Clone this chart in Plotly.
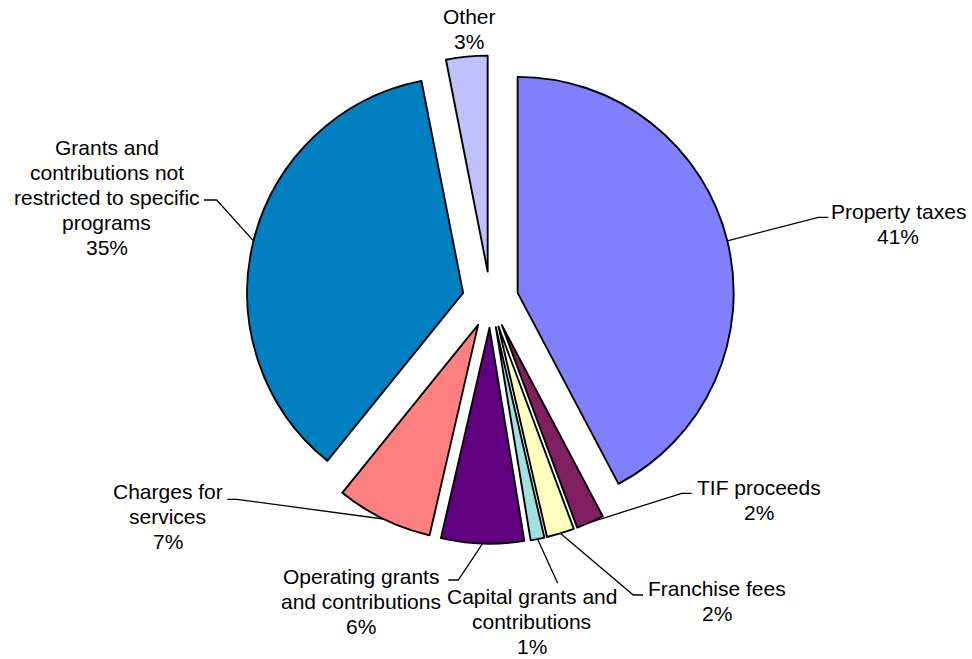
import math
import plotly.graph_objects as go

# Revenue sources (percent of total revenues)
categories = [
    "Property taxes",
    "TIF proceeds",
    "Franchise fees",
    "Capital grants and contributions",
    "Operating grants and contributions",
    "Charges for services",
    "Grants and contributions not restricted to specific programs",
    "Other",
]
values = [41, 2, 2, 1, 6, 7, 35, 3]

# Wrapped label text for each slice
label_lines = [
    ["Property taxes"],
    ["TIF proceeds"],
    ["Franchise fees"],
    ["Capital grants and", "contributions"],
    ["Operating grants", "and contributions"],
    ["Charges for", "services"],
    ["Grants and", "contributions not", "restricted to specific", "programs"],
    ["Other"],
]

colors = ["#8080FF", "#802060", "#FFFFC0", "#A0E0E0",
          "#600080", "#FF8080", "#0080C0", "#C0C0FF"]

# ---- canvas / pie geometry (pixels) ----
W, H = 972, 659
CX, CY = 490.4, 299.6          # pie centre
R = 216.0                      # pie radius
PULL = 0.13                    # explode distance as fraction of radius
half = R * (1 + PULL)
dom_x = [(CX - half) / W, (CX + half) / W]
dom_y = [1 - (CY + half) / H, 1 - (CY - half) / H]

LINE_STEP = 25                 # baseline spacing of label lines (px)

# label block centres and leader elbows (pixels); None = no leader
label_pos = [
    (898, 224.2), (759, 500.0), (717, 600.8), (531.7, 621.5),
    (360.5, 601.1), (167.8, 516.7), (106.7, 197.5), (469.3, 29.2),
]
leader_pts = [
    [(818.3, 217.3), (828.3, 217.3)],
    [(681.7, 493.3), (691.7, 493.3)],
    [(633.3, 595.0), (643.0, 595.0)],
    [(557.7, 583.3)],
    [(458.3, 580.0), (448.3, 580.0)],
    [(236.7, 499.3), (227.3, 499.3)],
    [(216.7, 200.0), (204.0, 200.0)],
    None,
]


def px(x, y):
    return x / W, 1 - y / H


fig = go.Figure(go.Pie(
    labels=categories,
    values=values,
    sort=False,
    direction="clockwise",
    rotation=0,
    pull=[PULL] * len(values),
    marker=dict(colors=colors, line=dict(color="black", width=1.9)),
    textinfo="none",
    hoverinfo="label+percent",
    domain=dict(x=dom_x, y=dom_y),
    showlegend=False,
))

font = dict(family="Arial, 'Liberation Sans', sans-serif", size=21, color="black")
annotations = []
shapes = []
total = sum(values)
cum = 0.0
for i, v in enumerate(values):
    mid = (cum + v / 2) / total * 2 * math.pi
    cum += v
    lines = label_lines[i] + [f"{v}%"]
    bx, by = label_pos[i]
    n = len(lines)
    for j, line in enumerate(lines):
        lx, ly = px(bx, by + (j - (n - 1) / 2) * LINE_STEP)
        annotations.append(dict(
            x=lx, y=ly, xref="paper", yref="paper", text=line,
            showarrow=False, xanchor="center", yanchor="middle",
            align="center", font=font,
        ))
    if leader_pts[i]:
        dist = R * (1 + PULL)
        ax = CX + dist * math.sin(mid)
        ay = CY - dist * math.cos(mid)
        pts = [(ax, ay)] + leader_pts[i]
        path = "M " + " L ".join(
            "{:.5f},{:.5f}".format(*px(x, y)) for x, y in pts)
        shapes.append(dict(type="path", path=path, xref="paper",
                           yref="paper", line=dict(color="black", width=1.3)))

fig.update_layout(
    width=W, height=H,
    margin=dict(l=0, r=0, t=0, b=0),
    paper_bgcolor="white",
    plot_bgcolor="white",
    annotations=annotations,
    shapes=shapes,
)

fig.write_html("out.html")
